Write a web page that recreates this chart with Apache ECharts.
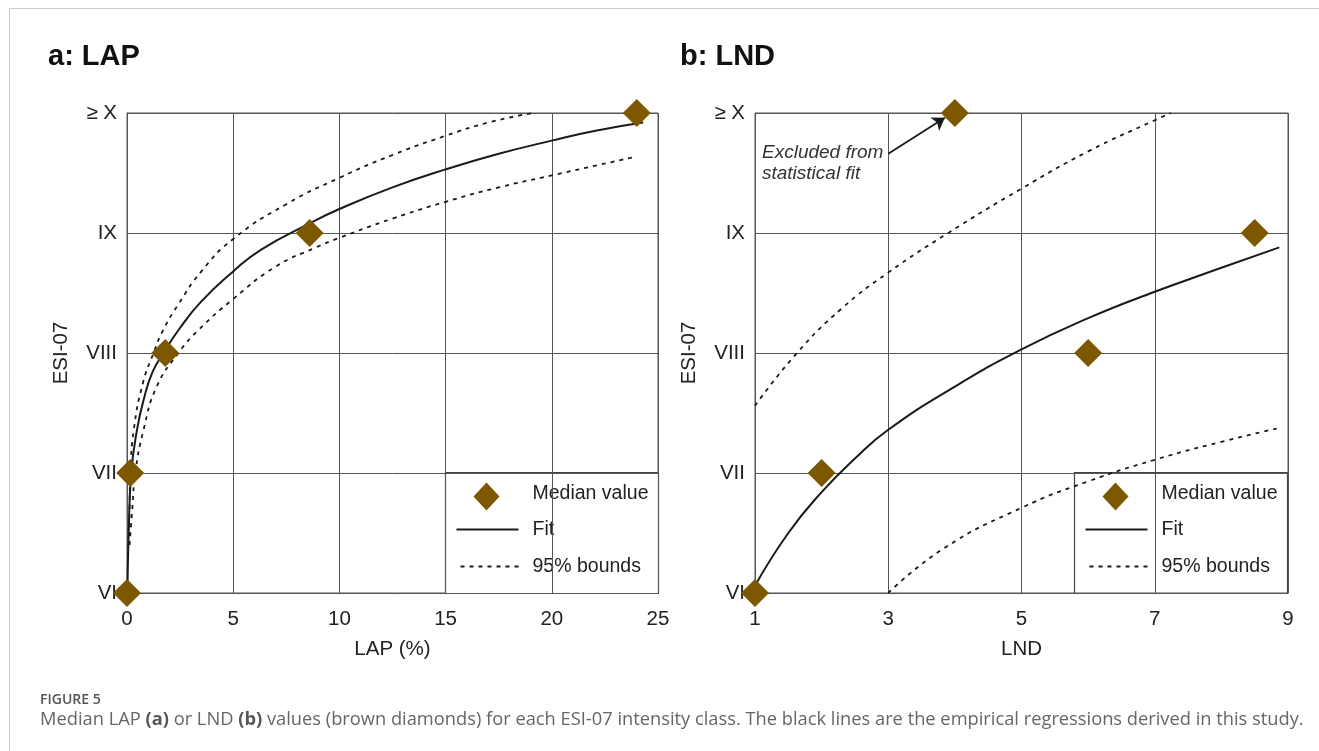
<!DOCTYPE html>
<html>
<head>
<meta charset="utf-8">
<script src="https://cdn.jsdelivr.net/npm/echarts@6/dist/echarts.min.js"></script>
<style>
  html, body { margin: 0; padding: 0; background: #fff; }
  #chart { width: 1319px; height: 751px; }
</style>
</head>
<body>
<div id="chart"></div>
<script>
// intensity classes on the y axis
const esiLabels = ['VI', 'VII', 'VIII', 'IX', '≥ X']
const lapTicks = [0, 5, 10, 15, 20, 25]
const lndTicks = [1, 3, 5, 7, 9]

// panel a: LAP (%) vs ESI-07
const lapMedian = [[0, 6], [0.15, 7], [1.8, 8], [8.6, 9], [24, 10]]
const lapFit = [[0.02, 6.03], [0.08, 6.5], [0.2, 7.0], [0.47, 7.36], [0.8, 7.62], [1.2, 7.84], [1.72, 8.0], [2.46, 8.2], [3.5, 8.43], [5.0, 8.68], [6.3, 8.86], [8.6, 9.08], [10, 9.2], [12.5, 9.38], [15, 9.53], [17.5, 9.66], [20, 9.77], [22, 9.85], [24.3, 9.92]]
const lapUpper = [[0.1, 6.4], [0.12, 6.7], [0.16, 7.0], [0.32, 7.36], [0.75, 7.75], [1.25, 8.0], [1.7, 8.19], [2.4, 8.4], [3.5, 8.68], [5, 8.95], [7.5, 9.24], [10, 9.46], [12.5, 9.65], [15, 9.81], [17, 9.92], [19.1, 10.0]]
const lapLower = [[0.12, 6.4], [0.25, 6.7], [0.39, 7.0], [0.78, 7.36], [1.4, 7.72], [2.42, 8.0], [3.36, 8.19], [5, 8.45], [7, 8.72], [8.9, 8.88], [10, 8.96], [12.5, 9.12], [15, 9.26], [17.5, 9.38], [20, 9.48], [23.8, 9.63]]

// panel b: LND vs ESI-07
const lndMedian = [[1, 6], [2, 7], [6, 8], [8.5, 9], [4, 10]]
const lndFit = [[1.0, 6.06], [1.5, 6.5], [2.0, 6.84], [2.5, 7.12], [3, 7.36], [4, 7.72], [5, 8.03], [6, 8.29], [7, 8.51], [8, 8.71], [8.87, 8.88]]
const lndUpper = [[1, 7.56], [1.63, 8.0], [2.3, 8.37], [3, 8.67], [3.9, 9.0], [5, 9.37], [6, 9.68], [7, 9.94], [7.24, 10.0]]
const lndLower = [[3, 6.0], [3.83, 6.37], [5, 6.71], [6, 6.93], [7, 7.11], [8, 7.26], [8.83, 7.37]]
// arrow to the excluded point
const excludedArrow = [[3.0, 9.66], [3.85, 9.96]]

const brown = '#7d5800'
const ink = '#1a1a1a'
const gridCol = '#555'
const font = '"Liberation Sans", Arial, sans-serif'

const chart = echarts.init(document.getElementById('chart'))

function xAxisFor(idx, ticks, name) {
  return {
    gridIndex: idx, type: 'value',
    min: ticks[0], max: ticks[ticks.length - 1], interval: ticks[1] - ticks[0],
    name: name, nameLocation: 'middle', nameGap: 46,
    nameTextStyle: { fontFamily: font, fontSize: 20.5, color: '#222' },
    axisLine: { show: true, lineStyle: { color: gridCol } },
    axisTick: { show: false },
    axisLabel: { fontFamily: font, fontSize: 20.5, color: '#222', margin: 16 },
    splitLine: { show: true, lineStyle: { color: gridCol, width: 1 } }
  }
}
function yAxisFor(idx) {
  return {
    gridIndex: idx, type: 'value', min: 6, max: 10, interval: 1,
    name: 'ESI-07', nameLocation: 'middle', nameGap: 55,
    nameTextStyle: { fontFamily: font, fontSize: 20.5, color: '#222' },
    axisLine: { show: true, lineStyle: { color: gridCol } },
    axisTick: { show: false },
    axisLabel: {
      fontFamily: font, fontSize: 20.5, color: '#222', margin: 10,
      formatter: v => esiLabels[Math.round(v) - 6]
    },
    splitLine: { show: true, lineStyle: { color: gridCol, width: 1 } }
  }
}
function lineSeries(idx, data, dashed) {
  return {
    type: 'line', xAxisIndex: idx, yAxisIndex: idx, data: data,
    showSymbol: false, smooth: 0.5, silent: true, z: 3,
    lineStyle: { color: ink, width: dashed ? 1.8 : 2, type: dashed ? [4, 5] : 'solid' }
  }
}
function medianSeries(idx, data) {
  return {
    type: 'scatter', xAxisIndex: idx, yAxisIndex: idx, data: data,
    symbol: 'diamond', symbolSize: 28, clip: false, z: 5,
    itemStyle: { color: brown, opacity: 1 }
  }
}

// legend box drawn as graphic
function legendBox(x0, y0, filled) {
  const f = '19.5px ' + font
  return {
    type: 'group', x: x0, y: y0, z: 10,
    children: [
      { type: 'rect', shape: { x: 0, y: 0, width: 213, height: 121 },
        style: { fill: filled ? '#fff' : 'none', stroke: '#444', lineWidth: 1.2 } },
      { type: 'polygon', shape: { points: [[41, 10], [54, 24], [41, 38], [28, 24]] }, style: { fill: brown } },
      { type: 'text', x: 87, y: 21, style: { text: 'Median value', font: f, fill: '#222', verticalAlign: 'middle' } },
      { type: 'line', shape: { x1: 11, y1: 57, x2: 73, y2: 57 }, style: { stroke: ink, lineWidth: 2 } },
      { type: 'text', x: 87, y: 57, style: { text: 'Fit', font: f, fill: '#222', verticalAlign: 'middle' } },
      { type: 'line', shape: { x1: 15, y1: 94, x2: 73, y2: 94 }, style: { stroke: ink, lineWidth: 1.8, lineDash: [4, 5] } },
      { type: 'text', x: 87, y: 94, style: { text: '95% bounds', font: f, fill: '#222', verticalAlign: 'middle' } }
    ]
  }
}

const option = {
  animation: false,
  grid: [
    { left: 127, top: 113, width: 531, height: 480, show: true, borderColor: gridCol, borderWidth: 1 },
    { left: 755, top: 113, width: 533, height: 480, show: true, borderColor: gridCol, borderWidth: 1 }
  ],
  xAxis: [xAxisFor(0, lapTicks, 'LAP (%)'), xAxisFor(1, lndTicks, 'LND')],
  yAxis: [yAxisFor(0), yAxisFor(1)],
  series: [
    lineSeries(0, lapUpper, true),
    lineSeries(0, lapLower, true),
    lineSeries(0, lapFit, false),
    medianSeries(0, lapMedian),
    lineSeries(1, lndUpper, true),
    lineSeries(1, lndLower, true),
    lineSeries(1, lndFit, false),
    {
      type: 'line', xAxisIndex: 1, yAxisIndex: 1, data: [], silent: true,
      markLine: {
        silent: true, animation: false,
        symbol: ['none', 'arrow'], symbolSize: 12,
        label: { show: false },
        lineStyle: { color: ink, width: 1.8, type: 'solid' },
        data: [[{ coord: excludedArrow[0] }, { coord: excludedArrow[1] }]]
      }
    },
    medianSeries(1, lndMedian)
  ],
  graphic: [
    { type: 'line', shape: { x1: 9, y1: 8.5, x2: 1319, y2: 8.5 }, style: { stroke: '#ccc', lineWidth: 1 } },
    { type: 'line', shape: { x1: 9.5, y1: 8, x2: 9.5, y2: 751 }, style: { stroke: '#ccc', lineWidth: 1 } },
    { type: 'text', x: 48, y: 57, style: { text: 'a: LAP', font: 'bold 29px ' + font, fill: '#111', verticalAlign: 'middle' } },
    { type: 'text', x: 680, y: 57, style: { text: 'b: LND', font: 'bold 29px ' + font, fill: '#111', verticalAlign: 'middle' } },
    { type: 'text', x: 762, y: 142, style: { text: 'Excluded from\nstatistical fit', font: 'italic 19px ' + font, fill: '#333', lineHeight: 21 } },
    legendBox(445.5, 472.5, true),
    legendBox(1074.5, 472.5, false),
    { type: 'text', x: 40, y: 700, style: { text: 'FIGURE 5', font: '600 14px "Open Sans", sans-serif', fill: '#555', verticalAlign: 'middle' } },
    { type: 'text', x: 40, y: 720, style: {
        text: 'Median LAP {b|(a)} or LND {b|(b)} values (brown diamonds) for each ESI-07 intensity class. The black lines are the empirical regressions derived in this study.',
        font: '18.3px "Open Sans", sans-serif', fill: '#666', verticalAlign: 'middle',
        rich: { b: { font: 'bold 18.3px "Open Sans", sans-serif', fill: '#555' } }
      } }
  ]
}
option && chart.setOption(option)
window.addEventListener('resize', () => {
  chart.resize()
})
</script>
</body>
</html>
